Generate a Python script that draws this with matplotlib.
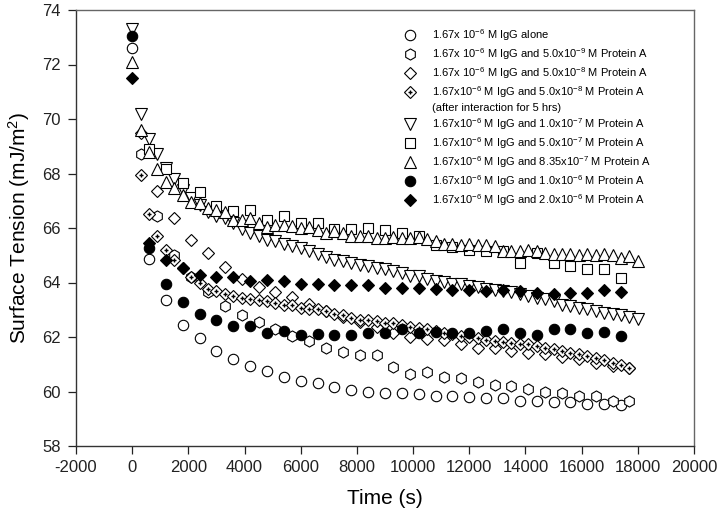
import matplotlib
matplotlib.use("Agg")
import matplotlib.pyplot as plt

plt.rcParams['font.family'] = ['Liberation Sans', 'DejaVu Sans']
plt.rcParams['mathtext.fontset'] = 'custom'
plt.rcParams['mathtext.rm'] = 'Liberation Sans'
plt.rcParams['mathtext.it'] = 'Liberation Sans:italic'
plt.rcParams['mathtext.default'] = 'regular'
plt.rcParams['axes.unicode_minus'] = False

# sampling times (s)
t_600_from0 = [0, 600, 1200, 1800, 2400, 3000, 3600, 4200, 4800, 5400,
               6000, 6600, 7200, 7800, 8400, 9000, 9600, 10200, 10800, 11400,
               12000, 12600, 13200, 13800, 14400, 15000, 15600, 16200, 16800, 17400]
t_600_from300 = [300, 900, 1500, 2100, 2700, 3300, 3900, 4500, 5100, 5700,
                 6300, 6900, 7500, 8100, 8700, 9300, 9900, 10500, 11100, 11700,
                 12300, 12900, 13500, 14100, 14700, 15300, 15900, 16500, 17100, 17700]
t_600_from600 = [600, 1200, 1800, 2400, 3000, 3600, 4200, 4800, 5400,
                 6000, 6600, 7200, 7800, 8400, 9000, 9600, 10200, 10800, 11400,
                 12000, 12600, 13200, 13800, 14400, 15000, 15600, 16200, 16800, 17400]
t_300_from0 = [0, 300, 600, 900, 1200, 1500, 1800, 2100, 2400, 2700,
               3000, 3300, 3600, 3900, 4200, 4500, 4800, 5100, 5400, 5700,
               6000, 6300, 6600, 6900, 7200, 7500, 7800, 8100, 8400, 8700,
               9000, 9300, 9600, 9900, 10200, 10500, 10800, 11100, 11400, 11700,
               12000, 12300, 12600, 12900, 13200, 13500, 13800, 14100, 14400, 14700,
               15000, 15300, 15600, 15900, 16200, 16500, 16800, 17100, 17400, 17700, 18000]
t_300_from300 = [300, 600, 900, 1200, 1500, 1800, 2100, 2400, 2700,
                 3000, 3300, 3600, 3900, 4200, 4500, 4800, 5100, 5400, 5700,
                 6000, 6300, 6600, 6900, 7200, 7500, 7800, 8100, 8400, 8700,
                 9000, 9300, 9600, 9900, 10200, 10500, 10800, 11100, 11400, 11700,
                 12000, 12300, 12600, 12900, 13200, 13500, 13800, 14100, 14400, 14700,
                 15000, 15300, 15600, 15900, 16200, 16500, 16800, 17100, 17400, 17700]

# surface tension (mJ/m2)
igg_alone = [72.6, 64.85, 63.35, 62.45, 61.95, 61.5, 61.2, 60.95, 60.75, 60.55,
             60.4, 60.3, 60.15, 60.05, 60.0, 59.95, 59.95, 59.9, 59.85, 59.85,
             59.8, 59.75, 59.75, 59.65, 59.65, 59.6, 59.6, 59.55, 59.55, 59.5]
pa_5e9 = [68.7, 66.45, 65.0, 64.2, 63.65, 63.15, 62.8, 62.55, 62.3, 62.05,
          61.85, 61.6, 61.45, 61.35, 61.35, 60.9, 60.65, 60.7, 60.55, 60.5,
          60.35, 60.25, 60.2, 60.1, 60.0, 59.95, 59.85, 59.85, 59.65, 59.65]
pa_5e8 = [69.5, 67.35, 66.37, 65.57, 65.09, 64.57, 64.14, 63.84, 63.64, 63.45,
          63.2, 62.95, 62.75, 62.55, 62.35, 62.15, 62.0, 61.92, 61.9, 61.75,
          61.6, 61.58, 61.48, 61.42, 61.36, 61.26, 61.18, 61.06, 60.93, 60.87]
pa_5e8_5h = [67.93, 66.53, 65.72, 65.18, 64.82, 64.54, 64.21, 63.99, 63.77,
             63.68, 63.56, 63.5, 63.44, 63.38, 63.35, 63.32, 63.26, 63.16, 63.19,
             63.07, 63.04, 63.01, 62.95, 62.83, 62.79, 62.71, 62.64, 62.64, 62.58,
             62.52, 62.52, 62.45, 62.38, 62.33, 62.28, 62.22, 62.16, 62.1, 62.03,
             62.0, 61.97, 61.9, 61.85, 61.82, 61.79, 61.76, 61.73, 61.67, 61.61,
             61.55, 61.48, 61.42, 61.36, 61.3, 61.24, 61.15, 61.06, 60.98, 60.88]
pa_1e7 = [73.3, 70.2, 69.25, 68.7, 68.2, 67.8, 67.4, 67.1, 66.85, 66.6,
          66.45, 66.38, 66.2, 65.95, 65.82, 65.7, 65.57, 65.51, 65.43, 65.35,
          65.27, 65.15, 65.03, 64.94, 64.84, 64.78, 64.72, 64.66, 64.6, 64.54,
          64.48, 64.41, 64.35, 64.23, 64.23, 64.13, 64.05, 64.01, 63.96, 63.93,
          63.86, 63.84, 63.77, 63.74, 63.68, 63.64, 63.56, 63.5, 63.44, 63.38,
          63.31, 63.19, 63.13, 63.07, 63.01, 62.95, 62.89, 62.83, 62.79, 62.74, 62.67]
pa_5e7 = [68.9, 68.16, 67.65, 67.31, 66.79, 66.61, 66.65, 66.31, 66.43,
          66.19, 66.2, 65.97, 65.97, 66.0, 65.92, 65.8, 65.7, 65.39, 65.3,
          65.21, 65.15, 65.15, 64.72, 65.09, 64.72, 64.6, 64.51, 64.48, 64.17]
pa_835e7 = [72.1, 69.6, 68.8, 68.15, 67.7, 67.45, 67.2, 66.95, 66.9, 66.75,
            66.65, 66.6, 66.3, 66.3, 66.35, 66.2, 66.05, 66.1, 66.12, 66.06,
            66.0, 66.05, 65.94, 65.82, 65.9, 65.82, 65.7, 65.7, 65.7, 65.64,
            65.64, 65.67, 65.64, 65.64, 65.67, 65.6, 65.51, 65.42, 65.4, 65.38,
            65.4, 65.36, 65.38, 65.35, 65.15, 65.15, 65.15, 65.18, 65.15, 65.09,
            65.03, 65.03, 65.03, 65.0, 65.03, 65.0, 65.03, 65.0, 64.9, 64.96, 64.78]
pa_1e6 = [73.05, 65.27, 63.93, 63.28, 62.83, 62.62, 62.42, 62.4, 62.16, 62.22,
          62.09, 62.12, 62.09, 62.09, 62.16, 62.16, 62.28, 62.16, 62.18, 62.13,
          62.16, 62.22, 62.28, 62.16, 62.06, 62.3, 62.28, 62.16, 62.18, 62.03]
pa_2e6 = [71.5, 65.45, 64.84, 64.54, 64.29, 64.21, 64.21, 64.05, 64.11, 64.05,
          63.96, 63.93, 63.89, 63.89, 63.89, 63.81, 63.81, 63.81, 63.77, 63.74,
          63.72, 63.68, 63.71, 63.68, 63.6, 63.56, 63.6, 63.62, 63.72, 63.64]

labels = [
    '1.67x 10$^{-6}$ M IgG alone',
    '1.67x 10$^{-6}$ M IgG and 5.0x10$^{-9}$ M Protein A',
    '1.67x 10$^{-6}$ M IgG and 5.0x10$^{-8}$ M Protein A',
    '1.67x10$^{-6}$ M IgG and 5.0x10$^{-8}$ M Protein A',
    '(after interaction for 5 hrs)',
    '1.67x10$^{-6}$ M IgG and 1.0x10$^{-7}$ M Protein A',
    '1.67x10$^{-6}$ M IgG and 5.0x10$^{-7}$ M Protein A',
    '1.67x10$^{-6}$ M IgG and 8.35x10$^{-7}$ M Protein A',
    '1.67x10$^{-6}$ M IgG and 1.0x10$^{-6}$ M Protein A',
    '1.67x10$^{-6}$ M IgG and 2.0x10$^{-6}$ M Protein A',
]

fig = plt.figure(figsize=(7.2, 5.23), dpi=100)
ax = fig.add_axes([76 / 720, 1 - 446 / 523, 618 / 720, 436 / 523])

kw = dict(linestyle='none', markeredgecolor='black', markeredgewidth=0.8)
open_kw = dict(kw, markerfacecolor='white')
full_kw = dict(kw, markerfacecolor='black')

h1, = ax.plot(t_600_from0, igg_alone, marker='o', markersize=7.5, **open_kw)
h2, = ax.plot(t_600_from300, pa_5e9, marker='h', markersize=8, **open_kw)
h3, = ax.plot(t_600_from300, pa_5e8, marker='D', markersize=6, **open_kw)
h4a, = ax.plot(t_300_from300, pa_5e8_5h, marker='D', markersize=6, **open_kw)
h4b, = ax.plot(t_300_from300, pa_5e8_5h, marker='+', markersize=3,
               linestyle='none', color='black', markeredgewidth=1.0)
h5, = ax.plot(t_300_from0, pa_1e7, marker='v', markersize=8, **open_kw)
h6, = ax.plot(t_600_from600, pa_5e7, marker='s', markersize=7, **open_kw)
h7, = ax.plot(t_300_from0, pa_835e7, marker='^', markersize=8, **open_kw)
h8, = ax.plot(t_600_from0, pa_1e6, marker='o', markersize=7.5, **full_kw)
h9, = ax.plot(t_600_from0, pa_2e6, marker='D', markersize=6, **full_kw)
blank, = ax.plot([], [], linestyle='none')

ax.legend([h1, h2, h3, (h4a, h4b), blank, h5, h6, h7, h8, h9], labels,
          loc='upper left', bbox_to_anchor=(0.5296, 0.961),
          frameon=False, fontsize=8, handlelength=1.2, handletextpad=1.4,
          borderpad=0, borderaxespad=0, labelspacing=0.29)

ax.set_xlim(-2000, 20000)
ax.set_ylim(58, 74)
ax.set_xticks(range(-2000, 20001, 2000))
ax.set_yticks(range(58, 75, 2))
ax.tick_params(direction='out', length=6, width=0.9, labelsize=12, pad=5,
               colors='#222222')
ax.tick_params(axis='x', pad=4)

for side in ['left', 'bottom']:
    ax.spines[side].set_color('#333333')
for side in ['top', 'right']:
    ax.spines[side].set_color('#666666')
for s in ax.spines.values():
    s.set_linewidth(1.0)

ax.set_xlabel('Time (s)', fontsize=15, labelpad=10)
ax.set_ylabel('Surface Tension (mJ/m$^2$)', fontsize=15, labelpad=7)

fig.savefig('out.png', dpi=100)
